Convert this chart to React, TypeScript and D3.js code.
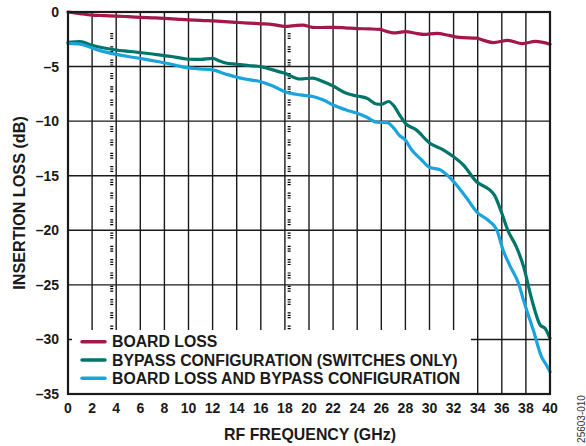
import React from "react";
import * as d3 from "d3";

const boardFreq = [0, 1, 2, 3, 4, 5, 6, 7, 8, 9, 10, 11, 12, 13, 14, 15, 16, 17, 18, 19, 19.5, 20.3, 21, 22, 23, 24, 25, 25.9, 26.5, 27, 28, 29, 29.5, 30.6, 31.7, 32.5, 33.9, 34.5, 35.3, 36.5, 37.7, 38.8, 40];
const boardLoss = [0, -0.15, -0.28, -0.33, -0.37, -0.43, -0.49, -0.53, -0.58, -0.65, -0.73, -0.76, -0.82, -0.88, -0.95, -1.02, -1.08, -1.15, -1.32, -1.22, -1.2, -1.4, -1.42, -1.4, -1.45, -1.52, -1.55, -1.6, -1.8, -1.92, -1.8, -1.98, -2.05, -1.95, -2.17, -2.33, -2.4, -2.6, -2.8, -2.6, -2.9, -2.7, -2.95];

const bypassFreq = [0, 1, 2, 3, 4, 5, 6, 7, 8, 9, 10, 11, 12, 12.6, 13, 14, 15, 16, 17, 18, 19.25, 20.3, 21.2, 22, 23.1, 24, 24.8, 25.6, 26, 26.6, 27.1, 27.5, 28, 28.9, 30, 31.1, 32, 32.8, 33.9, 35, 35.4, 36, 36.5, 37.2, 37.8, 38.5, 39.2, 39.6, 40];
const bypassLoss = [-2.78, -2.72, -3.05, -3.3, -3.48, -3.6, -3.72, -3.85, -4.0, -4.15, -4.33, -4.34, -4.25, -4.5, -4.65, -4.79, -4.9, -5.01, -5.3, -5.62, -6.14, -6.05, -6.4, -6.78, -7.45, -7.7, -7.9, -8.43, -8.46, -8.2, -8.68, -9.4, -10.2, -10.8, -12.0, -12.6, -13.26, -14.0, -15.55, -16.3, -16.8, -18.44, -20, -21.5, -23.3, -26.4, -28.7, -29.0, -29.9];

const totalFreq = [0, 1, 1.5, 2.65, 4, 5, 6, 7, 8.2, 9, 9.85, 11, 12, 13, 14, 15, 16, 17, 18, 19.25, 20.4, 21.2, 22, 23.1, 24, 24.8, 25.6, 26.5, 27, 27.5, 28, 28.5, 29.35, 30, 30.9, 32, 33.1, 33.9, 35, 35.6, 36.1, 36.7, 37.4, 37.8, 38.6, 39.3, 39.7, 40];
const totalLoss = [-2.87, -2.95, -3.1, -3.54, -3.88, -4.08, -4.25, -4.45, -4.7, -4.9, -5.1, -5.22, -5.3, -5.65, -5.98, -6.2, -6.39, -6.78, -7.3, -7.6, -7.76, -8.06, -8.52, -8.98, -9.28, -9.65, -10.1, -10.13, -10.6, -11.3, -11.73, -12.6, -13.56, -14.23, -14.47, -15.54, -17.07, -18.3, -19.2, -20.0, -21.8, -23.3, -24.9, -26.4, -29.1, -31.6, -32.35, -32.96];

const xTicks = d3.range(0, 41, 2);
const yTicks = [0, -5, -10, -15, -20, -25, -30, -35];
const markerFreqs = [3.63, 18.35];
const seriesNames = ["BOARD LOSS", "BYPASS CONFIGURATION (SWITCHES ONLY)", "BOARD LOSS AND BYPASS CONFIGURATION"];
const seriesColors = ["#a3184a", "#00766a", "#1ba3dc"];

const W = 586, H = 446;
const L = 68, R = 550, T = 12, B = 394;
const FONT = "Arial, 'Liberation Sans', Helvetica, sans-serif";

export default function App() {
  const x = d3.scaleLinear().domain([0, 40]).range([L, R]);
  const y = d3.scaleLinear().domain([-35, 0]).range([B, T]);
  const line = d3.line<[number, number]>().x(d => x(d[0])).y(d => y(d[1])).curve(d3.curveMonotoneX);
  const series = [
    d3.zip(boardFreq, boardLoss) as [number, number][],
    d3.zip(bypassFreq, bypassLoss) as [number, number][],
    d3.zip(totalFreq, totalLoss) as [number, number][],
  ];
  const legX = 72, legR = 471, legT = 330;
  const rowY = [341.7, 360, 378.3];
  return (
    <svg width={W} height={H} style={{ position: "absolute", left: 0, top: 0, background: "#fff" }} fontFamily={FONT}>
      <rect x={0} y={0} width={W} height={H} fill="#fff" />
      {xTicks.map(t => (
        <line key={"gx" + t} x1={x(t)} x2={x(t)} y1={T} y2={B} stroke="#1a1a1a" strokeWidth={1.4} />
      ))}
      {yTicks.map(t => (
        <line key={"gy" + t} x1={L} x2={R} y1={y(t)} y2={y(t)} stroke="#1a1a1a" strokeWidth={1.4} />
      ))}
      {markerFreqs.map(f => (
        <line key={"m" + f} x1={x(f)} x2={x(f)} y1={33} y2={B} stroke="#000" strokeWidth={3}
          strokeDasharray="1.2 1.2 1.2 1.2 1.2 7.3" />
      ))}
      {series.map((s, i) => (
        <path key={"s" + i} d={line(s) || ""} fill="none" stroke={seriesColors[i]} strokeWidth={3.2}
          strokeLinejoin="round" strokeLinecap="round" />
      ))}
      <rect x={legX} y={legT} width={legR - legX} height={B - legT - 1} fill="#fff" />
      {seriesNames.map((n, i) => (
        <g key={"l" + i}>
          <line x1={82} x2={105} y1={rowY[i]} y2={rowY[i]} stroke={seriesColors[i]} strokeWidth={3.5} strokeLinecap="round" />
          <text x={112} y={rowY[i] + 5.7} fontSize={15.8} fontWeight="bold" fill="#1a1a1a">{n}</text>
        </g>
      ))}
      <rect x={L} y={T} width={R - L} height={B - T} fill="none" stroke="#1a1a1a" strokeWidth={2.2} />
      {yTicks.map(t => (
        <text key={"yl" + t} x={59} y={y(t) + 5} textAnchor="end" fontSize={14} fontWeight="bold" fill="#1a1a1a">
          {t === 0 ? "0" : "\u2013" + Math.abs(t)}
        </text>
      ))}
      {xTicks.map(t => (
        <text key={"xl" + t} x={x(t)} y={413} textAnchor="middle" fontSize={14} fontWeight="bold" fill="#1a1a1a">{t}</text>
      ))}
      <text x={310} y={440} textAnchor="middle" fontSize={15.9} fontWeight="bold" fill="#1a1a1a">RF FREQUENCY (GHz)</text>
      <text transform="translate(25,203) rotate(-90)" textAnchor="middle" fontSize={16.2} fontWeight="bold" fill="#1a1a1a">INSERTION LOSS (dB)</text>
      <text transform="translate(584.5,419) rotate(-90)" textAnchor="middle" fontSize={10} fill="#333">25603-010</text>
    </svg>
  );
}
